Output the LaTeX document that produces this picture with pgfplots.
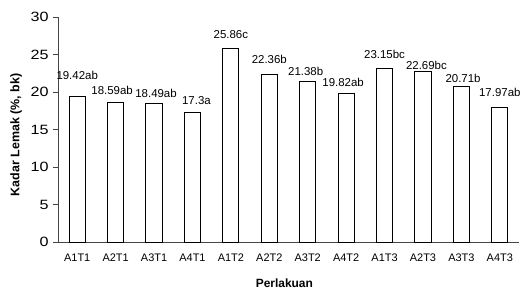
\documentclass[border=0pt]{standalone}
\usepackage{pgfplots}
\pgfplotsset{compat=1.18}
\usepackage{pgfplotstable}
\usepackage{fontspec}
\setmainfont{Liberation Sans}
\pgfplotstableread{
x label val dx dy
0 19.42ab 19.42 0 21
1 18.59ab 18.59 -3.5 12.7
2 18.49ab 18.49 2 10
3 17.3a 17.3 4 11.7
4 25.86c 25.86 0 13.3
5 22.36b 22.36 0 14.7
6 21.38b 21.38 -2 10.7
7 19.82ab 19.82 -3 10.7
8 23.15bc 23.15 0 14
9 22.69bc 22.69 3.5 6.7
10 20.71b 20.71 1.7 8.7
11 17.97ab 17.97 0 15
}\datatable
\begin{document}
\begin{tikzpicture}
\path[use as bounding box] (-58bp,-49bp) rectangle (464bp,242bp);
\begin{axis}[
  at={(0,0)}, anchor=south west,
  scale only axis, width=461bp, height=225bp,
  xmin=-0.5, xmax=11.5, ymin=0, ymax=30,
  ytick={0,5,...,30},
  xtick={0,...,11},
  xticklabels={A1T1,A2T1,A3T1,A4T1,A1T2,A2T2,A3T2,A4T2,A1T3,A2T3,A3T3,A4T3},
  minor xtick={-0.5,0.5,...,11.5},
  axis x line*=bottom, axis y line*=left,
  axis line style={gray!55!black, line width=0.9bp, -},
  tick align=outside,
  xtick style={draw=none},
  ytick style={gray!55!black, line width=0.9bp},
  major tick length=5bp,
  minor tick length=4bp,
  minor x tick style={gray!55!black, line width=0.9bp},
  x tick label style={font=\fontsize{11}{13}\selectfont, yshift=-3bp},
  y tick label style={font=\fontsize{13.5}{15}\selectfont\addfontfeature{FakeStretch=1.2}, xshift=-1bp},
  /pgf/number format/assume math mode=true,
  xlabel={Perlakuan},
  ylabel={Kadar Lemak (\%, bk)},
  xlabel style={font=\bfseries\fontsize{12}{14}\selectfont, at={(axis description cs:0.491,-0.182)}, anchor=center},
  ylabel style={font=\bfseries\fontsize{12.5}{14}\selectfont, at={(axis description cs:-0.091,0.476)}, anchor=center},
  ybar, bar width=0.42, bar shift=0pt,
  clip=false,
]
\addplot[draw=black, fill=white, line width=1bp,
  point meta=explicit symbolic,
  visualization depends on={\thisrow{dx}\as\dx},
  visualization depends on={\thisrow{dy}\as\dy},
  nodes near coords,
  every node near coord/.style={anchor=center, xshift=\dx pt, yshift=\dy pt, font=\fontsize{11.5}{13}\selectfont, inner sep=0pt, text=black},
] table[x=x, y=val, meta=label] {\datatable};
\end{axis}
\end{tikzpicture}
\end{document}
